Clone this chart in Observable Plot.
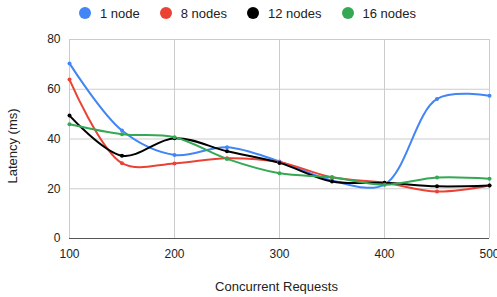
<!DOCTYPE html>
<html>
<head>
<meta charset="utf-8">
<script src="https://cdn.jsdelivr.net/npm/d3@7"></script>
<script src="https://cdn.jsdelivr.net/npm/@observablehq/plot@0.6"></script>
<style>
  body { margin: 0; background: #fff; font-family: "Liberation Sans", Arial, sans-serif; }
  #legend { display: flex; align-items: center; height: 26px; padding-left: 79px; font-size: 13px; color: #222; }
  .item { display: flex; align-items: center; margin-right: 20px; }
  .sw { width: 12px; height: 12px; border-radius: 50%; margin-right: 9px; }
</style>
</head>
<body>
<div id="legend"></div>
<div id="chart"></div>
<script>
const requests = [100, 150, 200, 250, 300, 350, 400, 450, 500];
const seriesNames = ["1 node", "8 nodes", "12 nodes", "16 nodes"];
const seriesColors = ["#4285f4", "#ea4335", "#000000", "#34a853"];
const node1 = [70.4, 43.4, 33.6, 36.7, 31.0, 23.3, 21.7, 56.1, 57.4];
const nodes8 = [63.9, 30.3, 30.2, 32.3, 30.7, 24.6, 22.4, 18.9, 21.3];
const nodes12 = [49.4, 33.3, 40.3, 35.1, 30.4, 22.9, 22.4, 21.0, 21.3];
const nodes16 = [45.9, 41.9, 40.7, 32.0, 26.2, 24.6, 21.6, 24.5, 24.0];
const yTicks = [0, 20, 40, 60, 80];
const xTicks = [100, 200, 300, 400, 500];
const xTitle = "Concurrent Requests";
const yTitle = "Latency (ms)";

const allSeries = [node1, nodes8, nodes12, nodes16];
const data = [];
seriesNames.forEach((name, i) => {
  requests.forEach((r, j) => data.push({ series: name, x: r, y: allSeries[i][j] }));
});

const legend = document.getElementById("legend");
seriesNames.forEach((name, i) => {
  const it = document.createElement("div");
  it.className = "item";
  it.innerHTML = `<span class="sw" style="background:${seriesColors[i]}"></span><span>${name}</span>`;
  legend.appendChild(it);
});

const chart = Plot.plot({
  width: 497,
  height: 271,
  marginTop: 13,
  marginBottom: 59,
  marginLeft: 69,
  marginRight: 8,
  style: { fontFamily: "'Liberation Sans', Arial, sans-serif", fontSize: "12px", color: "#222", background: "#fff" },
  x: { domain: [100, 500] },
  y: { domain: [0, 80] },
  color: { domain: seriesNames, range: seriesColors },
  marks: [
    Plot.gridX(xTicks, { stroke: "#cccccc", strokeOpacity: 1 }),
    Plot.gridY(yTicks, { stroke: "#cccccc", strokeOpacity: 1 }),
    Plot.ruleY([0], { stroke: "#555" }),
    Plot.axisX(xTicks, { tickSize: 0, tickPadding: 11, fontSize: 12, label: null }),
    Plot.axisY(yTicks, { tickSize: 0, tickPadding: 9, fontSize: 12, label: null }),
    Plot.text([xTitle], { frameAnchor: "bottom", textAnchor: "middle", dy: 52, dx: -3, fontSize: 13, fill: "#222" }),
    Plot.text([yTitle], { frameAnchor: "left", textAnchor: "middle", rotate: -90, dx: -57, dy: 7, fontSize: 13, fill: "#222" }),
    Plot.line(data, { x: "x", y: "y", z: "series", stroke: "series", strokeWidth: 2, curve: "catmull-rom" }),
    Plot.dot(data, { x: "x", y: "y", fill: "series", r: 2 })
  ]
});
document.getElementById("chart").appendChild(chart);
</script>
</body>
</html>
